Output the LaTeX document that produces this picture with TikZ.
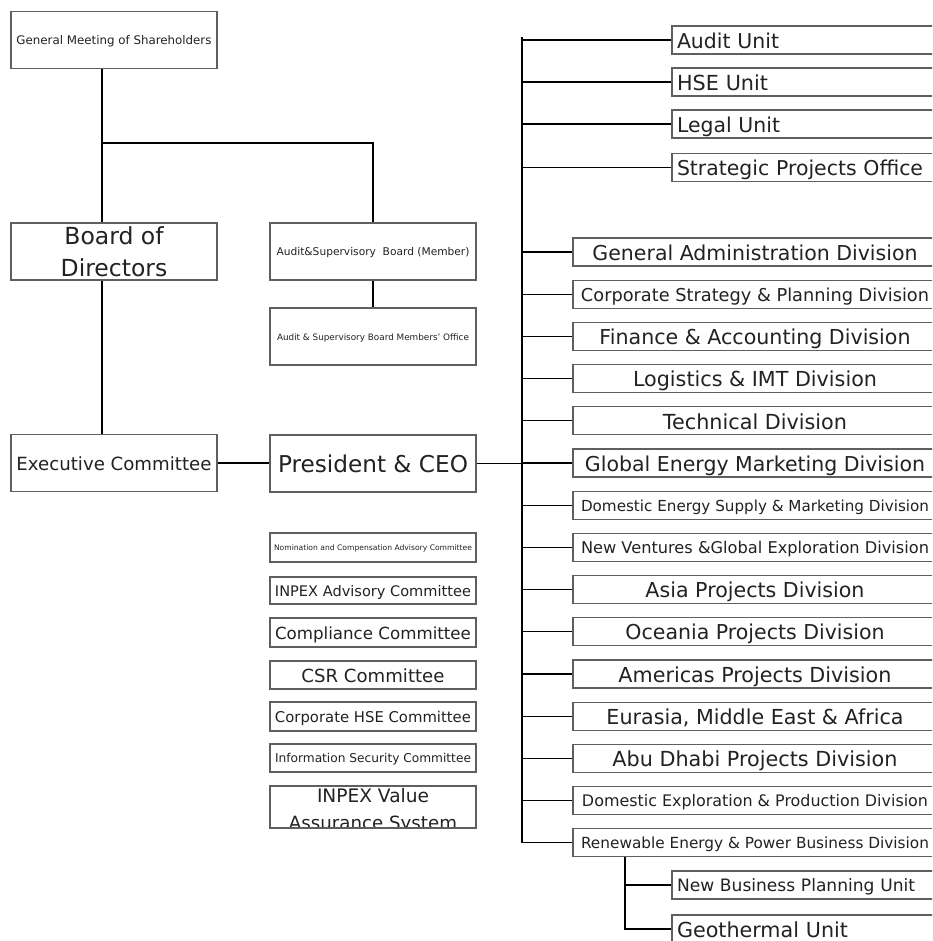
\documentclass[tikz,border=0pt]{standalone}
\usepackage{fontspec}
\setmainfont{DejaVu Sans}
\usepackage{graphicx}
\definecolor{boxgray}{RGB}{95,95,95}
\definecolor{textc}{RGB}{34,34,34}
\newcommand\T[2]{\resizebox{#1pt}{!}{\rule[-2.1pt]{0pt}{12.15pt}#2}}
\begin{document}
\begin{tikzpicture}[x=1pt,y=-1pt,
  box/.style={draw=boxgray, line width=1.2pt, inner sep=0pt, text=textc, fill=white},
  lbox/.style={box, minimum width=206pt, minimum height=57pt},
  cbox/.style={box, minimum width=206pt, minimum height=28pt},
  dbox/.style={box, minimum width=364pt, minimum height=28pt},
  ubox/.style={box, text width=255pt, inner xsep=5pt, inner ysep=0pt, minimum height=28pt, align=left},
  conn/.style={draw=black, line width=1.3pt}]
\fill[white] (0,0) rectangle (932,941);
\clip (0,0) rectangle (932,941);

% left part
\node[lbox] (gm) at (114,40) {\T{195}{General Meeting of Shareholders}};
\node[lbox, align=center, font=\fontsize{23.5}{32}\selectfont] (bod) at (114,251.5) {Board of\\Directors};
\node[lbox] (asb) at (373,251.5) {\T{193}{Audit\&Supervisory\ \ Board (Member)}};
\node[lbox] (asbo) at (373,336.5) {\T{192}{Audit \& Supervisory Board Members' Office}};
\node[lbox] (exec) at (114,463) {\T{195}{Executive Committee}};
\node[lbox] (ceo) at (373,463.5) {\T{190}{President \& CEO}};

% committees
\node[cbox, minimum height=29pt] (nom) at (373,547.5) {\T{198}{Nomination and Compensation Advisory Committee}};
\node[cbox, minimum height=27pt] (iac) at (373,590.5) {\T{196}{INPEX Advisory Committee}};
\node[cbox, minimum height=29pt] (comp) at (373,632.5) {\T{196}{Compliance Committee}};
\node[cbox] (csr) at (373,675) {\T{143}{CSR Committee}};
\node[cbox, minimum height=29pt] (chse) at (373,716.5) {\T{196}{Corporate HSE Committee}};
\node[cbox] (isc) at (373,758) {\T{196}{Information Security Committee}};
\node[box, minimum width=206pt, minimum height=42pt,
  path picture={
    \node[anchor=base, inner sep=0pt, text=textc, yshift=5pt] (ivasA) at (path picture bounding box.center) {\T{112}{INPEX Value}};
    \node[anchor=base, inner sep=0pt, text=textc, yshift=-22pt] (ivasB) at (path picture bounding box.center) {\T{168}{Assurance System}};
  }] (ivas) at (373,807) {};

% connectors left
\coordinate (j1) at (102,143);
\draw[conn] ([xshift=-12pt]gm.south) -- ([xshift=-12pt]bod.north);
\draw[conn] (j1) -| (asb.north);
\draw[conn] ([xshift=-12pt]bod.south) -- ([xshift=-12pt]exec.north);
\draw[conn] (asb.south) -- (asbo.north);
\draw[conn] (exec.east) -- (exec.east -| ceo.west);

% units
\node[ubox] (aud) at (804.5,40) {\T{102}{Audit Unit}};
\node[ubox] (hse) at (804.5,82) {\T{91}{HSE Unit}};
\node[ubox] (leg) at (804.5,124) {\T{103}{Legal Unit}};
\node[ubox] (spo) at (804.5,167.5) {\T{246}{Strategic Projects Office}};

% divisions
\node[dbox] (gad) at (755,252) {\T{325}{General Administration Division}};
\node[dbox] (csp) at (755,294.2) {\T{348}{Corporate Strategy \& Planning Division}};
\node[dbox] (fad) at (755,336.4) {\T{311}{Finance \& Accounting Division}};
\node[dbox] (lim) at (755,378.6) {\T{244}{Logistics \& IMT Division}};
\node[dbox] (tec) at (755,420.8) {\T{184}{Technical Division}};
\node[dbox] (gem) at (755,463) {\T{340}{Global Energy Marketing Division}};
\node[dbox] (des) at (755,505.2) {\T{348}{Domestic Energy Supply \& Marketing Division}};
\node[dbox] (nvg) at (755,547.4) {\T{348}{New Ventures \&Global Exploration Division}};
\node[dbox] (asi) at (755,589.6) {\T{219}{Asia Projects Division}};
\node[dbox] (oce) at (755,631.8) {\T{259}{Oceania Projects Division}};
\node[dbox] (ame) at (755,674) {\T{273}{Americas Projects Division}};
\node[dbox] (eur) at (755,716.2) {\T{297}{Eurasia, Middle East \& Africa}};
\node[dbox] (abu) at (755,758.4) {\T{285}{Abu Dhabi Projects Division}};
\node[dbox] (dep) at (755,800.6) {\T{346}{Domestic Exploration \& Production Division}};
\node[dbox] (ren) at (755,842.8) {\T{348}{Renewable Energy \& Power Business Division}};

% sub units
\node[ubox] (nbp) at (804.5,885) {\T{238}{New Business Planning Unit}};
\node[ubox] (geo) at (804.5,929) {\raisebox{2pt}{\T{171}{Geothermal Unit}}};

% spine
\coordinate (stop) at (522,37);
\draw[conn] (stop) -- (stop |- ren.west);
\draw[conn] (ceo.east) -- (ceo.east -| stop);
\foreach \n in {aud,hse,leg,spo,gad,csp,fad,lim,tec,gem,des,nvg,asi,oce,ame,eur,abu,dep,ren}
  \draw[conn] (\n.west) -- (\n.west -| stop);
\coordinate (rj) at ([xshift=-130pt]ren.south);
\draw[conn] (rj) |- (geo.west);
\draw[conn] (nbp.west) -- (nbp.west -| rj);
\end{tikzpicture}
\end{document}
